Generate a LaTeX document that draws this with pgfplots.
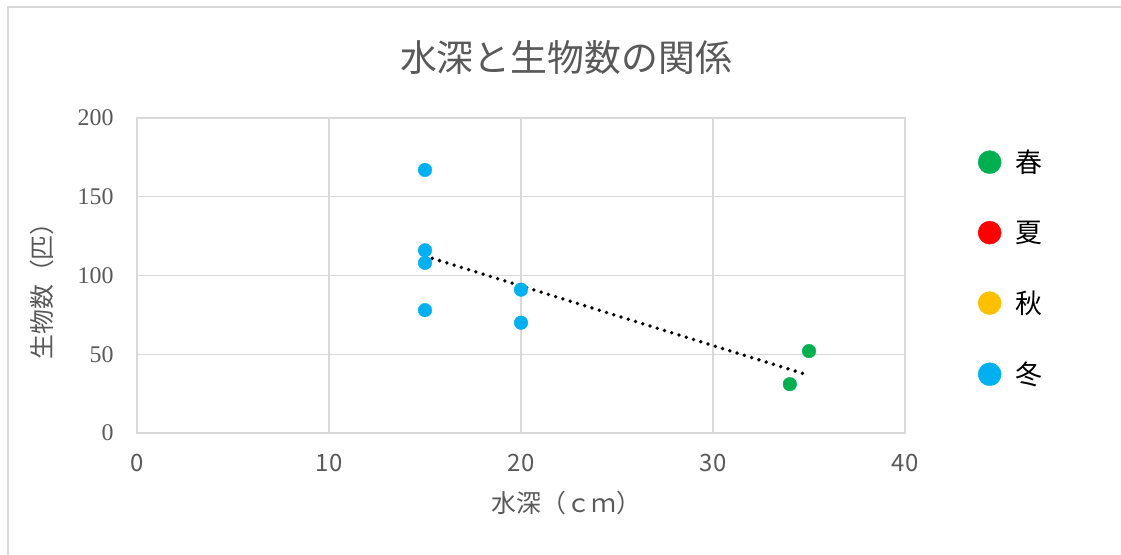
\documentclass[border=0pt]{standalone}
\usepackage{fontspec}
\usepackage{pgfplots}
\pgfplotsset{compat=1.18}
\setmainfont{Liberation Serif}
\newfontfamily\jp{Noto Sans CJK JP}
\definecolor{springc}{HTML}{00B050}
\definecolor{summerc}{HTML}{FF0000}
\definecolor{autumnc}{HTML}{FFC000}
\definecolor{winterc}{HTML}{00B0F0}
\definecolor{gridgray}{HTML}{D9D9D9}
\definecolor{textgray}{HTML}{595959}
% full-width glyph box
\newcommand{\zw}[1]{\makebox[1em]{#1}}

\begin{document}
\begin{tikzpicture}[x=1bp,y=1bp]
\useasboundingbox (0,0) rectangle (1121,555);
\draw[gridgray, line width=1.5bp] (8,0) -- (8,548) -- (1121,548);
\node[text=textgray, font=\jp\fontsize{37}{37}\selectfont] at (566,497) {水深と生物数の関係};
\begin{axis}[
  at={(137bp,122bp)}, anchor=south west,
  scale only axis, width=768bp, height=315bp,
  xmin=0, xmax=40, ymin=0, ymax=200,
  xtick={0,10,20,30,40}, ytick={0,50,100,150,200},
  grid=major,
  major grid style={gridgray, line width=1.2bp},
  axis line style={gridgray, line width=1.2bp},
  major tick length=0pt,
  tick label style={text=textgray},
  /pgf/number format/assume math mode=true,
  xticklabel style={font=\jp\fontsize{24}{24}\selectfont, yshift=-18bp},
  yticklabel style={font=\fontsize{24}{24}\selectfont, xshift=-20bp},
  xlabel={\jp 水深\zw{（}\zw{ｃ}\zw{ｍ}\zw{）}},
  ylabel={\jp 生物数\zw{（}\zw{匹}\zw{）}},
  label style={text=textgray, font=\fontsize{25}{25}\selectfont},
  xlabel style={at={(axis description cs:0.559,-0.222)}, anchor=center},
  ylabel style={at={(axis description cs:-0.124,0.47)}, anchor=center, rotate=0},
  legend style={at={(1.095,0.905)}, anchor=north west, draw=none, fill=none,
    inner sep=0pt, row sep=43bp,
    font=\jp\fontsize{27}{27}\selectfont, text=black,
    nodes={inner sep=2bp}},
  legend cell align=left,
  legend image code/.code={\draw[#1, mark size=11.5bp] plot coordinates {(12bp,0bp)} (36bp,0bp);},
]
% spring survey
\addplot[only marks, mark=*, mark size=6.8bp, color=springc] coordinates {
  (35,52) (34,31)
};
\addlegendentry{春}
\addlegendimage{only marks, mark=*, color=summerc}
\addlegendentry{夏}
\addlegendimage{only marks, mark=*, color=autumnc}
\addlegendentry{秋}
% winter survey
\addplot[only marks, mark=*, mark size=6.8bp, color=winterc] coordinates {
  (15,167) (15,116) (15,108) (15,78) (20,91) (20,70)
};
\addlegendentry{冬}
% linear trend over all samples
\addplot[forget plot, black, line width=3.8bp, line cap=round, dash pattern=on 0bp off 7.6bp] coordinates {
  (15,112.3) (35,36.6)
};
\end{axis}
\end{tikzpicture}
\end{document}
